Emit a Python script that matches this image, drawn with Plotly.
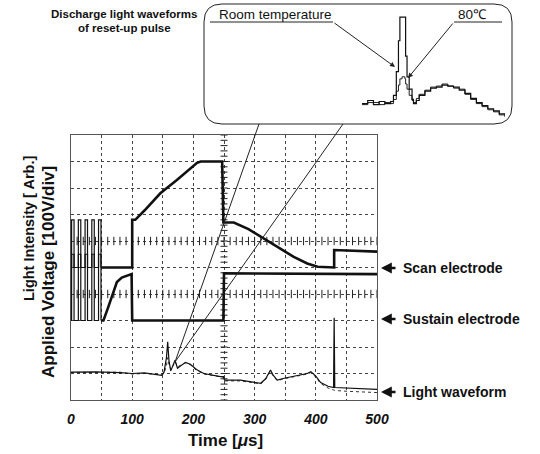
import plotly.graph_objects as go

# ---------------- data (time in µs, amplitude in grid divisions) ----------------
scan_t = [0, 1, 1, 5, 5, 12, 12, 16, 16, 23, 23, 27, 27, 34, 34, 38, 38, 45, 45, 49, 49,
          100, 100, 105, 120, 146, 173, 195, 206, 212, 247, 249, 266, 290, 310, 340, 364,
          386, 403, 430, 430, 500]
scan_v = [5.0, 5.0, 6.8, 6.8, 5.0, 5.0, 6.8, 6.8, 5.0, 5.0, 6.8, 6.8, 5.0, 5.0, 6.8, 6.8,
          5.0, 5.0, 6.8, 6.8, 5.0, 5.0, 6.8, 6.8, 7.15, 7.8, 8.3, 8.75, 8.95, 9.0, 9.0, 6.7,
          6.7, 6.45, 6.16, 5.75, 5.4, 5.15, 5.03, 5.0, 5.66, 5.6]

sustain_t = [0, 1, 1, 5, 5, 12, 12, 16, 16, 23, 23, 27, 27, 34, 34, 38, 38, 45, 45, 49, 49,
             53, 60, 67, 75, 83, 91, 99, 100, 249, 250, 500]
sustain_v = [3.0, 3.0, 5.5, 5.5, 3.0, 3.0, 5.5, 5.5, 3.0, 3.0, 5.5, 5.5, 3.0, 3.0, 5.5, 5.5,
             3.0, 3.0, 5.5, 5.5, 3.0, 3.0, 3.45, 3.95, 4.45, 4.62, 4.7, 4.75, 3.0, 3.0, 4.78, 4.75]

light_t = [0, 40, 80, 100, 120, 140, 148, 152, 156, 158, 160, 163, 166, 170, 174, 180, 187,
           195, 205, 217, 230, 244, 249, 251, 277, 295, 310, 318, 326, 330, 337, 350, 370,
           386, 392, 400, 408, 420, 429, 430, 431, 451, 475, 500]
light_room = [1.05, 1.06, 1.03, 1.0, 1.02, 0.95, 0.93, 1.05, 1.6, 2.2, 1.5, 1.1, 1.3, 1.5,
              1.2, 1.3, 1.42, 1.35, 1.15, 1.0, 0.93, 0.88, 0.88, 0.75, 0.75, 0.68, 0.63, 0.8,
              1.13, 0.95, 0.75, 0.83, 0.92, 1.0, 1.07, 0.9, 0.66, 0.52, 0.47, 3.1, 0.47,
              0.45, 0.42, 0.4]
light_80c = [1.03, 1.04, 1.05, 0.98, 1.0, 0.97, 0.95, 1.0, 1.3, 1.6, 1.35, 1.15, 1.25, 1.45,
             1.25, 1.32, 1.4, 1.33, 1.12, 0.98, 0.92, 0.86, 0.86, 0.72, 0.72, 0.66, 0.61,
             0.78, 1.08, 0.92, 0.73, 0.81, 0.9, 0.98, 1.04, 0.86, 0.62, 0.45, 0.38, 0.38,
             0.36, 0.33, 0.31, 0.28]

# inset (zoomed discharge light waveform), arbitrary units 0..100
inset_t = [0, 4, 8, 12, 16, 20, 22, 24, 25.5, 26.5, 28, 30, 30.5, 31.5, 33, 35, 36, 38, 40,
           44, 48, 52, 56, 60, 64, 68, 72, 76, 80, 84, 88, 92, 96, 100]
inset_room = [14, 17, 13, 16, 14, 16, 22, 45, 75, 98, 98, 98, 60, 40, 28, 18, 14, 17, 22,
              26, 29, 30, 32, 31, 30, 27, 24, 19, 15, 12, 9, 7, 4, 2]
inset_80c = [13, 15, 15, 13, 15, 14, 18, 26, 32, 38, 40, 38, 33, 28, 22, 17, 15, 19, 23,
             27, 30, 31, 33, 31, 29, 28, 23, 18, 14, 11, 8, 6, 3, 1]

x_tickvals = [0, 50, 100, 150, 200, 250, 300, 350, 400, 450, 500]
x_ticktext = ["0", "", "100", "", "200", "", "300", "", "400", "", "500"]

# number of points that belong to the sustain-pulse burst at the start
N_PULSE = 21

# ---------------- geometry helpers (pixel -> paper) ----------------
W, H = 540, 454
def PX(px):
    return px / W
def PY(py):
    return (H - py) / H

FONT = "Liberation Sans, Arial, sans-serif"

fig = go.Figure()

# center-line graticule ticks (decoration)
tick_y = [i * 0.2 for i in range(51)]
fig.add_trace(go.Scatter(x=[250] * len(tick_y), y=tick_y, mode="markers",
                         marker=dict(symbol="line-ew", size=5, line=dict(width=1, color="#222")),
                         hoverinfo="skip", showlegend=False))
tick_x = [i * 10 for i in range(51)]
for yl in (6, 4):
    fig.add_trace(go.Scatter(x=tick_x, y=[yl] * len(tick_x), mode="markers",
                             marker=dict(symbol="line-ns", size=6, line=dict(width=1, color="#222")),
                             hoverinfo="skip", showlegend=False))

fig.add_trace(go.Scatter(x=light_t, y=light_80c, mode="lines",
                         line=dict(color="#333", width=1, dash="dot"), showlegend=False))
fig.add_trace(go.Scatter(x=light_t, y=light_room, mode="lines",
                         line=dict(color="#111", width=1.2), showlegend=False))
# pulse bursts (thin) and the rest (thick)
fig.add_trace(go.Scatter(x=sustain_t[:N_PULSE], y=sustain_v[:N_PULSE], mode="lines",
                         line=dict(color="#111", width=1.2), showlegend=False))
fig.add_trace(go.Scatter(x=scan_t[:N_PULSE], y=scan_v[:N_PULSE], mode="lines",
                         line=dict(color="#111", width=1.2), showlegend=False))
fig.add_trace(go.Scatter(x=sustain_t[N_PULSE - 1:], y=sustain_v[N_PULSE - 1:], mode="lines",
                         line=dict(color="#111", width=2.6), showlegend=False))
fig.add_trace(go.Scatter(x=scan_t[N_PULSE - 1:], y=scan_v[N_PULSE - 1:], mode="lines",
                         line=dict(color="#111", width=2.6), showlegend=False))

# inset traces
fig.add_trace(go.Scatter(x=inset_t, y=inset_80c, mode="lines", xaxis="x2", yaxis="y2",
                         line=dict(color="#222", width=1, shape="hv"), showlegend=False))
fig.add_trace(go.Scatter(x=inset_t, y=inset_room, mode="lines", xaxis="x2", yaxis="y2",
                         line=dict(color="#111", width=1.2, shape="hv"), showlegend=False))

# ---------------- shapes ----------------
x0, x1, y0, y1, r = 204, 512, 4, 124, 18
pts = [("M", x0 + r, y0), ("L", x1 - r, y0), ("Q", x1, y0, x1, y0 + r), ("L", x1, y1 - r),
       ("Q", x1, y1, x1 - r, y1), ("L", x0 + r, y1), ("Q", x0, y1, x0, y1 - r),
       ("L", x0, y0 + r), ("Q", x0, y0, x0 + r, y0)]
path = ""
for p in pts:
    if p[0] == "Q":
        path += f"Q{PX(p[1]):.5f},{PY(p[2]):.5f} {PX(p[3]):.5f},{PY(p[4]):.5f} "
    else:
        path += f"{p[0]}{PX(p[1]):.5f},{PY(p[2]):.5f} "
path += "Z"

shapes = [dict(type="path", path=path, xref="paper", yref="paper",
               line=dict(color="#222", width=1))]
# callout lines
for (xa, ya) in [(259, 124), (343, 124)]:
    shapes.append(dict(type="line", xref="paper", yref="paper",
                       x0=PX(xa), y0=PY(ya), x1=PX(175), y1=PY(362),
                       line=dict(color="#222", width=1)))
# underlines in inset
shapes.append(dict(type="line", xref="paper", yref="paper", x0=PX(210), y0=PY(22),
                   x1=PX(333), y1=PY(22), line=dict(color="#222", width=1)))
shapes.append(dict(type="line", xref="paper", yref="paper", x0=PX(454), y0=PY(22),
                   x1=PX(502), y1=PY(22), line=dict(color="#222", width=1)))

# ---------------- annotations ----------------
ann = []
def text(s, xp, yp, size, bold=False, anchor="center", angle=0, italic=False):
    ann.append(dict(text=s, x=PX(xp), y=PY(yp), xref="paper", yref="paper",
                    showarrow=False, xanchor=anchor, yanchor="middle", textangle=angle,
                    font=dict(family=FONT, size=size, color="#111",
                              weight="bold" if bold else "normal",
                              style="italic" if italic else "normal")))

text("Discharge light waveforms", 124, 14, 11.5, bold=True)
text("of reset-up pulse", 124, 28, 11.5, bold=True)
text("Room temperature", 217, 14, 13.5, anchor="left")
text("80℃", 472, 14, 13.5)
text("Light Intensity [ Arb.]", 29, 229, 14.5, bold=True, angle=-90)
text("Applied Voltage [100V/div]", 48, 272, 17, bold=True, angle=-90)
text("Time [<i>μ</i>s]", 225, 440, 17, bold=True)
text("Scan electrode", 401, 268, 14, bold=True, anchor="left")
text("Sustain electrode", 401, 319, 14, bold=True, anchor="left")
text("Light waveform", 401, 392, 14, bold=True, anchor="left")

# arrows to right of plot
for yy in (268, 319, 392):
    ann.append(dict(x=PX(381), y=PY(yy), xref="paper", yref="paper", text="",
                    showarrow=True, ax=16, ay=0, arrowhead=2, arrowsize=0.9,
                    arrowwidth=2.4, arrowcolor="#111"))
# inset arrows
ann.append(dict(x=PX(395), y=PY(67), xref="paper", yref="paper", text="",
                showarrow=True, ax=-62, ay=-45, arrowhead=2, arrowsize=1,
                arrowwidth=1, arrowcolor="#222"))
ann.append(dict(x=PX(408), y=PY(78), xref="paper", yref="paper", text="",
                showarrow=True, ax=46, ay=-56, arrowhead=2, arrowsize=1,
                arrowwidth=1, arrowcolor="#222"))

fig.update_layout(
    width=W, height=H,
    margin=dict(l=0, r=0, t=0, b=0),
    paper_bgcolor="white", plot_bgcolor="white",
    shapes=shapes, annotations=ann,
    xaxis=dict(domain=[PX(71), PX(377)], range=[0, 500], tickvals=x_tickvals,
               ticktext=x_ticktext, ticks="", showgrid=True, gridcolor="#444",
               griddash="dot", gridwidth=1, zeroline=False, showline=True, mirror=True,
               linecolor="#555", linewidth=1, ticklabelstandoff=6,
               tickfont=dict(family=FONT, size=14, color="#111", weight="bold",
                             style="italic"), automargin=False),
    yaxis=dict(domain=[PY(400), PY(135)], range=[0, 10], dtick=1, showticklabels=False,
               ticks="", showgrid=True, gridcolor="#444", griddash="dot", gridwidth=1,
               zeroline=False, showline=True, mirror=True, linecolor="#555",
               linewidth=1, automargin=False),
    xaxis2=dict(domain=[PX(362), PX(505)], range=[0, 100], visible=False, anchor="y2"),
    yaxis2=dict(domain=[PY(118), PY(15)], range=[0, 100], visible=False, anchor="x2"),
)

fig.write_html("out.html")
